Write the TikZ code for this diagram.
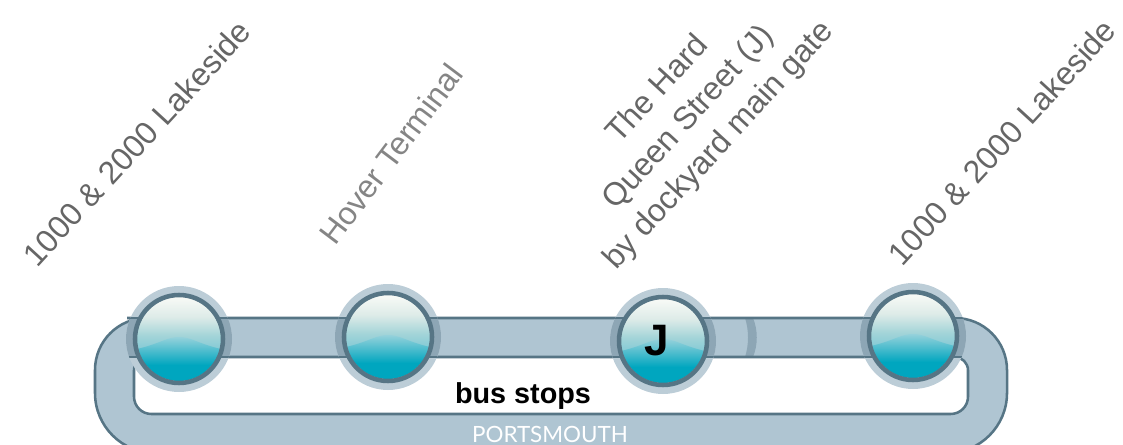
\documentclass[tikz,border=0pt]{standalone}
\usepackage{fontspec}
\setmainfont{Liberation Sans}
\newfontfamily\townfont{Lato}
\definecolor{trackfill}{HTML}{AFC5D2}
\definecolor{trackline}{HTML}{567585}
\definecolor{halofill}{HTML}{BCCDD7}
\definecolor{overlapfill}{HTML}{8DA6B5}
\definecolor{teal1}{HTML}{00A6BF}
\definecolor{teal2}{HTML}{5CB9C8}
\definecolor{glass1}{HTML}{F8FAF6}
\definecolor{glass2}{HTML}{DDEBE8}
\definecolor{glass3}{HTML}{A3D4D8}
\pgfdeclareverticalshading{glass}{100bp}{
	color(0bp)=(teal1); color(35bp)=(teal1); color(44bp)=(teal2!75!white);
	color(52bp)=(glass3); color(63bp)=(glass2); color(75bp)=(glass1); color(100bp)=(glass1)}

\begin{document}
\begin{tikzpicture}[
		x=0.75pt,y=-0.75pt,
		halo/.style={circle,fill=halofill,minimum size=79.5pt,inner sep=0pt},
		glassball/.style={circle,shading=glass,minimum size=63pt,inner sep=0pt},
		ring/.style={draw=trackline,line width=3.4pt},
		edge/.style={draw=trackline,line width=1.9pt},
		lab/.style={font=\fontsize{24}{31}\selectfont,align=center,text=black!60}]
	\useasboundingbox (0,0) rectangle (1123,445);
	\clip (0,0) rectangle (1123,445);
	%% define track
	\def\trackpath{(179,318) [rounded corners=39pt] -- (95,318) [rounded corners=45pt] -- (95,453) -- (1007,453) [rounded corners=39pt] -- (1007,318) -- cycle
		[rounded corners=10pt] (134,357) [rounded corners=13pt] -- (134,414) -- (968,414) [rounded corners=10pt] -- (968,357) -- cycle}
	\fill[trackfill,even odd rule] \trackpath;
	\fill[overlapfill] (745,318) .. controls (749,330) and (749,345) .. (745,357) -- (753,357) .. controls (758,345) and (758,330) .. (753,318) -- cycle;
	\draw[edge] \trackpath;
	%% define stops
	\foreach \i/\cx/\cy in {1/179/339,2/388/337,3/663/341,4/913/336}{
		\node (halo\i) at (\cx,\cy) [halo] {};
		\begin{scope}
			\clip (95,318) rectangle (1007,357);
			\fill[overlapfill] (\cx,\cy) circle (53);
		\end{scope}
		\begin{scope}
			\clip (\cx,\cy) circle (53);
			\draw[edge] (80,318) -- (1020,318);
			\draw[edge] (80,357) -- (1020,357);
		\end{scope}
		\node (stop\i) at (\cx,\cy) [glassball] {};
		\begin{scope}
			\clip (\cx,\cy) circle (42);
			\shade[top color=teal2!65!white,bottom color=teal1] (\cx-42,\cy+10) .. controls (\cx-20,\cy+5) and (\cx-12,\cy-2) .. (\cx,\cy-2)
				.. controls (\cx+12,\cy-2) and (\cx+20,\cy+5) .. (\cx+42,\cy+10) -- (\cx+42,\cy+26) -- (\cx-42,\cy+26) -- cycle;
		\end{scope}
		\draw[ring] (\cx,\cy) circle (44);
	}
	%% define labels
	\node (jletter) at (657,341) {\fontsize{33}{33}\selectfont\bfseries J};
	\node (busstops) at (523,396) {\fontsize{21.6}{24}\selectfont\bfseries bus stops};
	\node (town) at (550,434) [text=white] {\townfont\fontsize{16.8}{18}\selectfont PORTSMOUTH};
	\node (lakeside1) at (137,143) [lab,rotate=47.5] {1000 \& 2000 Lakeside};
	\node (hover) at (391,154) [lab,rotate=53,text=black!48] {Hover Terminal};
	\node (hard) at (689,118) [lab,rotate=47.5] {The Hard\\Queen Street (J)\\by dockyard main gate};
	\node (lakeside2) at (1002,142) [lab,rotate=47.5] {1000 \& 2000 Lakeside};
\end{tikzpicture}
\end{document}
